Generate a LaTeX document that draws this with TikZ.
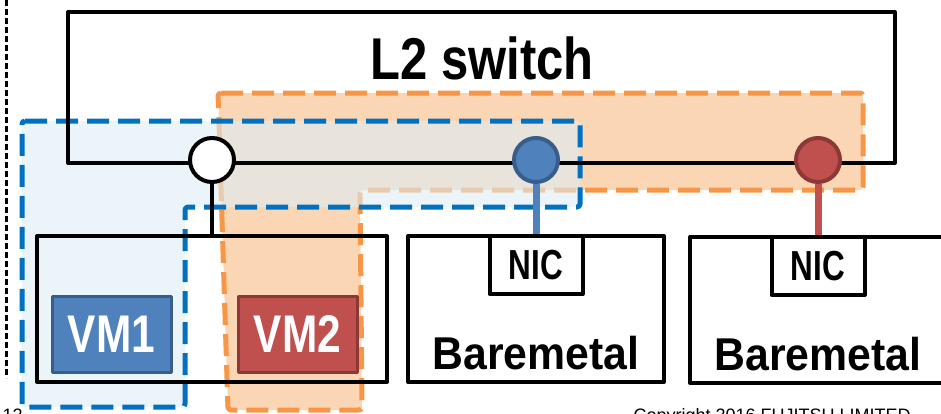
\documentclass[tikz,border=0pt]{standalone}
\usepackage{fontspec}
\setmainfont{Liberation Sans}
\usetikzlibrary{positioning}
\definecolor{zoneblue}{RGB}{0,112,192}
\definecolor{zoneorange}{RGB}{247,150,70}
\definecolor{paleorange}{RGB}{251,214,181}
\definecolor{paleblue}{RGB}{222,238,245}
\definecolor{vmblue}{RGB}{79,129,189}
\definecolor{vmblueedge}{RGB}{56,93,138}
\definecolor{vmred}{RGB}{192,80,77}
\definecolor{vmrededge}{RGB}{140,56,54}
\newcommand{\narrow}[2]{\scalebox{#1}[1]{#2}}
\begin{document}
\begin{tikzpicture}[x=1pt, y=-1pt, line join=round,
	box/.style={draw, rectangle, line width=4pt, inner sep=0pt},
	vmbox/.style={draw, rectangle, line width=3pt, inner sep=0pt, minimum width=119pt, minimum height=76pt, text=white, font=\bfseries\fontsize{53}{53}\selectfont},
	nicbox/.style={box, minimum width=93pt, minimum height=58pt, font=\bfseries\fontsize{42}{42}\selectfont},
	port/.style={circle, draw, line width=4pt, minimum size=44pt, inner sep=0pt},
	zone/.style={line width=5pt, dash pattern=on 22pt off 9pt, rounded corners=3pt},
	bmtext/.style={anchor=base, font=\bfseries\fontsize{46}{46}\selectfont},
	foot/.style={anchor=base west, font=\fontsize{18}{18}\selectfont}]
	\useasboundingbox (0,0) rectangle (941,413);
	% tenant zones
	\draw[zone, draw=zoneorange, fill=paleorange] (218,93) -- (863,93) -- (863,190) -- (360,190) -- (362,410) -- (228,410) -- cycle;
	\draw[zone, draw=zoneblue, fill=paleblue, fill opacity=0.6] (22,121) -- (580,121) -- (580,207) -- (185,207) -- (185,407) -- (22,407) -- cycle;
	% switch and hosts
	\node[box, minimum width=827pt, minimum height=151pt] (l2sw) at (481.5,87.5) {};
	\node[font=\bfseries\fontsize{59}{59}\selectfont] (l2label) at (482,58) {\narrow{0.83}{L2 switch}};
	\node[box, minimum width=350pt, minimum height=146pt] (vmhost) at (212,309) {};
	\node[box, minimum width=256pt, minimum height=146pt] (bmhosta) at (536,309) {};
	\node[box, minimum width=256pt, minimum height=146pt] (bmhostb) at (818,310) {};
	\node[nicbox] (nica) at (536,265) {\narrow{0.75}{NIC}};
	\node[nicbox] (nicb) at (818,266) {\narrow{0.75}{NIC}};
	\node[bmtext] (bmlabela) at (536,369) {\narrow{0.93}{Baremetal}};
	\node[bmtext] (bmlabelb) at (818,370) {\narrow{0.93}{Baremetal}};
	\node[vmbox, fill=vmblue, draw=vmblueedge] (vma) at (111.5,334) {\narrow{0.8}{VM1}};
	\node[vmbox, fill=vmred, draw=vmrededge] (vmb) at (297.5,334) {\narrow{0.8}{VM2}};
	% ports on the switch
	\node[port, fill=white] (vmport) at (212,160) {};
	\node[port, fill=vmblue, draw=vmblueedge] (portb) at (536,160) {};
	\node[port, fill=vmred, draw=vmrededge] (portr) at (818,160) {};
	\draw[line width=4pt] (vmport) -- (vmhost);
	\draw[line width=7pt, vmblue] (portb) -- (nica);
	\draw[line width=7pt, vmred] (portr) -- (nicb);
	% page edge
	\draw[line width=3pt, dash pattern=on 6pt off 3pt] (6,0) -- (6,378);
	\node[foot] (pagenum) at (-1,421) {12};
	\node[foot] (copyright) at (630,421) {Copyright 2016 FUJITSU LIMITED};
\end{tikzpicture}
\end{document}
